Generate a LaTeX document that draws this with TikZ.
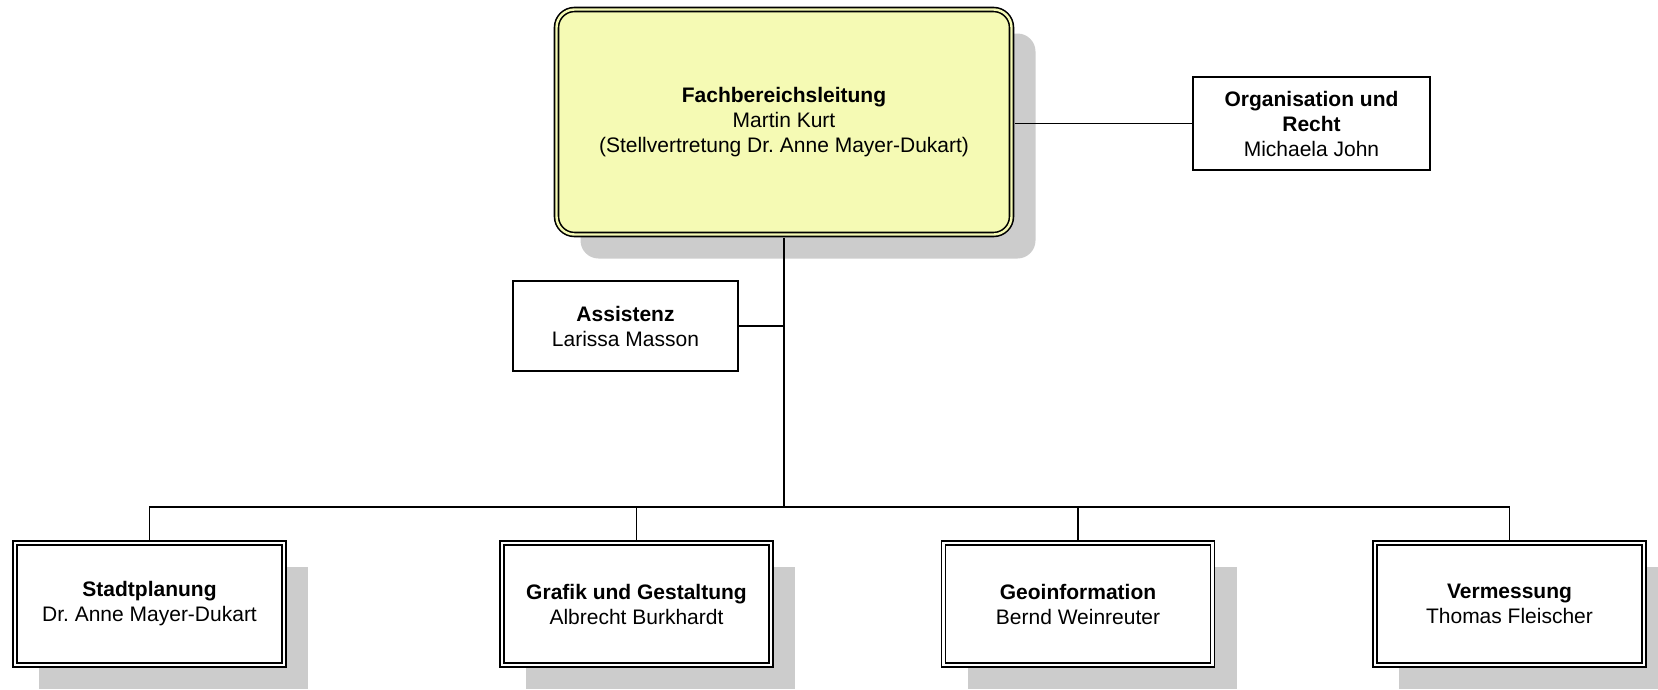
\documentclass[tikz,border=0pt]{standalone}
\usepackage{fontspec}
\setmainfont{Liberation Sans}
\usetikzlibrary{shadows}
\definecolor{leitgelb}{RGB}{245,250,180}
\definecolor{schatten}{RGB}{204,204,204}
\frenchspacing

\begin{document}
\begin{tikzpicture}[x=1pt,y=-1pt,
    font=\fontsize{21}{25}\selectfont,
    every node/.style={align=center,inner sep=0pt},
    einfach/.style={draw,line width=1.8pt,fill=white},
    doppelt/.style={draw,line width=1.6pt,double=white,double distance=2.4pt,fill=white,
      minimum width=269pt,minimum height=122pt,
      drop shadow={shadow xshift=24pt,shadow yshift=-24pt,fill=schatten,opacity=1}},
    linie/.style={line width=1.8pt}]
    \clip (0,0) rectangle (1658,689);

    % Leitung
    \node[doppelt,rounded corners=18pt,double=leitgelb,fill=leitgelb,
      minimum width=455pt,minimum height=225pt] (leit) at (784,122)
      {\textbf{Fachbereichsleitung}\\Martin Kurt\\(Stellvertretung Dr. Anne Mayer-Dukart)};

    % Stabsstellen
    \node[einfach,minimum width=237pt,minimum height=93pt] (org) at (1311.5,123.5)
      {\textbf{Organisation und}\\\textbf{Recht}\\Michaela John};
    \node[einfach,minimum width=225pt,minimum height=90pt] (assist) at (625.5,326)
      {\textbf{Assistenz}\\Larissa Masson};

    % Abteilungen
    \node[doppelt] (stadt) at (149.5,604) {\textbf{Stadtplanung}\\Dr. Anne Mayer-Dukart};
    \node[doppelt] (graf) at (636.5,604) {\textbf{Grafik und Gestaltung}\\Albrecht Burkhardt};
    \node[doppelt] (geo) at (1078,604) {\textbf{Geoinformation}\\Bernd Weinreuter};
    \node[doppelt] (verm) at (1509.5,604) {\textbf{Vermessung}\\Thomas Fleischer};

    % Verbindungen
    \coordinate (bus) at (784,507);
    \draw[linie,shorten <=2.5pt] (leit.south) -- (bus);
    \draw[linie,shorten <=2.5pt,shorten >=2.5pt] (stadt.north) |- (bus) -| (verm.north);
    \draw[linie,shorten >=2.5pt] (bus -| graf.north) -- (graf.north);
    \draw[linie,shorten >=2.5pt] (bus -| geo.north) -- (geo.north);
    \draw[linie] (assist.east) -- (assist.east -| leit.south);
    \draw[linie,shorten <=2.5pt] (leit.east |- org.west) -- (org.west);
\end{tikzpicture}
\end{document}
